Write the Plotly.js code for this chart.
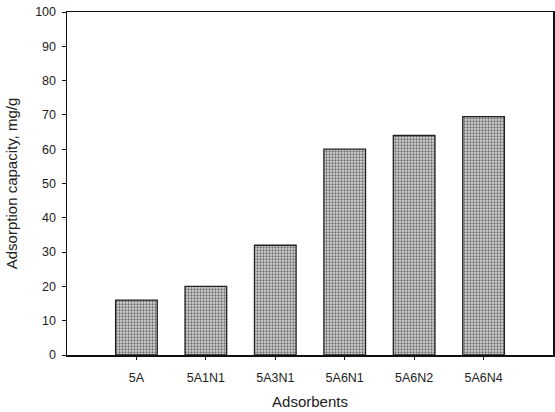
<!DOCTYPE html>
<html>
<head>
<meta charset="utf-8">
<script src="https://cdn.plot.ly/plotly-3.0.1.min.js"></script>
<style>html,body{margin:0;padding:0;background:#fff;}#chart{width:555px;height:412px;}</style>
</head>
<body>
<div id="chart"></div>
<script>
var categories = ["5A", "5A1N1", "5A3N1", "5A6N1", "5A6N2", "5A6N4"];
var capacity = [16, 20, 32, 60, 64, 69.5];
var yTicks = [0, 10, 20, 30, 40, 50, 60, 70, 80, 90, 100];

var trace = {
  type: 'bar',
  x: categories,
  y: capacity,
  width: 0.6,
  marker: {
    color: '#c4c4c4',
    line: {color: '#222', width: 1.3},
    pattern: {shape: '.', fgcolor: '#6e6e6e', bgcolor: '#d6d6d6', size: 3, solidity: 0.45}
  },
  hoverinfo: 'none'
};

var layout = {
  width: 555, height: 412,
  margin: {l: 67, r: 2, t: 12, b: 57},
  paper_bgcolor: '#fff', plot_bgcolor: '#fff',
  font: {family: 'Liberation Sans, Arial, sans-serif', color: '#222', size: 12.5},
  showlegend: false,
  xaxis: {
    type: 'category',
    range: [-1, 6],
    showline: true, mirror: true, linecolor: '#111', linewidth: 1.5,
    ticks: 'outside', ticklen: 3, tickcolor: '#111',
    ticklabelstandoff: 7,
    showgrid: false, zeroline: false,
    tickfont: {size: 12.5},
    title: {text: 'Adsorbents', font: {size: 15}, standoff: 13}
  },
  yaxis: {
    range: [0, 100],
    tickvals: yTicks,
    showline: true, mirror: true, linecolor: '#111', linewidth: 1.5,
    ticks: 'outside', ticklen: 4, tickcolor: '#111',
    ticklabelstandoff: 3,
    showgrid: false, zeroline: false,
    tickfont: {size: 12.5},
    title: {text: 'Adsorption capacity, mg/g', font: {size: 15}, standoff: 14}
  }
};

Plotly.newPlot('chart', [trace], layout, {staticPlot: true, displayModeBar: false});
</script>
</body>
</html>
